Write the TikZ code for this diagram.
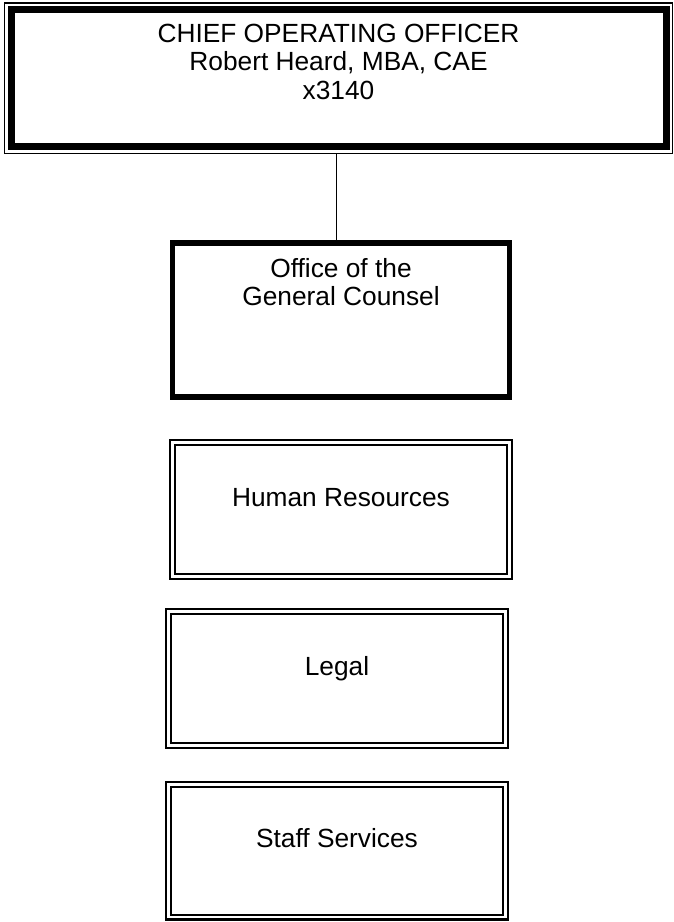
\documentclass[tikz,border=0pt]{standalone}
\usepackage{fontspec}
\setmainfont{Liberation Sans}
\usetikzlibrary{positioning, fit}
\newcommand{\boxfont}{\fontsize{26.3}{28.5}\selectfont}
\tikzset{
    chief/.style={
        rectangle,
        draw=black,
        line width=7pt,
        outer sep=0pt,
        minimum width=655pt,
        minimum height=137pt
    },
    chiefframe/.style={
        rectangle,
        draw=black,
        line width=1.2pt,
        inner sep=6.6pt,
        outer sep=0pt
    },
    counsel/.style={
        rectangle,
        draw=black,
        line width=5.5pt,
        outer sep=0pt,
        minimum width=337pt,
        minimum height=154pt
    },
    unitbox/.style={
        rectangle,
        draw=black,
        line width=2.4pt,
        double=white,
        double distance=2.2pt,
        outer sep=0pt,
        inner sep=0pt,
        minimum width=337pt,
        minimum height=134pt,
        text height=18.8pt,
        text depth=25.8pt,
        font=\boxfont
    },
    boxtext/.style={
        align=center,
        inner sep=0pt,
        font=\boxfont
    },
    orgline/.style={
        draw=black,
        line width=1.1pt
    }
}
\begin{document}
\begin{tikzpicture}[x=1pt, y=1pt]
\useasboundingbox (0,0) rectangle (673,-922);

% Chief Operating Officer
\node[chief] (coo) at (338.5,-78) {};
\node[chiefframe, fit=(coo)] (coo_frame) {};
\node[boxtext, below=14.1pt of coo.north] (coo_text) {CHIEF OPERATING OFFICER\\Robert Heard, MBA, CAE\\x3140};

% General Counsel
\node[counsel, below=96.5pt of coo, xshift=2.5pt] (gc) {};
\node[boxtext, below=14.9pt of gc.north] (gc_text) {Office of the\\General Counsel};

% Units
\node[unitbox, below=45.5pt of gc] (hr) {Human Resources};
\node[unitbox, below=35pt of hr, xshift=-4pt] (legal) {Legal};
\node[unitbox, below=39pt of legal, minimum height=132.5pt] (staff) {Staff Services};

% Connections
\draw[orgline] ([xshift=-2pt]coo_frame.south) -- ([xshift=-2pt]coo_frame.south |- gc.north);

\end{tikzpicture}
\end{document}
